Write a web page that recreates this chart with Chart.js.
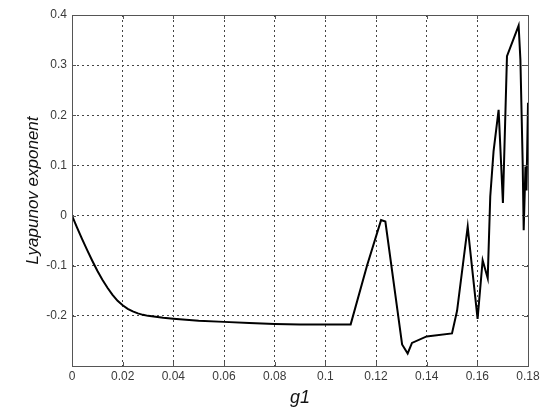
<!DOCTYPE html>
<html>
<head>
<meta charset="utf-8">
<script src="https://cdn.jsdelivr.net/npm/chart.js@4.4.0/dist/chart.umd.min.js"></script>
<style>
html,body{margin:0;padding:0;background:#fff;}
#wrap{width:550px;height:415px;position:relative;}
</style>
</head>
<body>
<div id="wrap"><canvas id="c" width="550" height="415"></canvas></div>
<script>
// ---- data ----
const g1Values = [0, 0.002, 0.004, 0.006, 0.008, 0.010, 0.012, 0.014, 0.016, 0.018, 0.020, 0.022, 0.024, 0.026, 0.028, 0.030, 0.033, 0.036, 0.040, 0.045, 0.050, 0.060, 0.070, 0.080, 0.090, 0.100, 0.110,
  0.1165, 0.1220, 0.1237, 0.1303, 0.1325, 0.1342, 0.1400, 0.1500, 0.1520, 0.1562, 0.1566, 0.1601, 0.1621, 0.1641, 0.1651, 0.1664, 0.1684, 0.1701, 0.1717, 0.1763, 0.1770, 0.1779, 0.1783, 0.1790, 0.1794, 0.1800];
const lyapunovValues = [0, -0.024, -0.047, -0.069, -0.090, -0.110, -0.128, -0.144, -0.158, -0.170, -0.179, -0.186, -0.191, -0.195, -0.198, -0.200, -0.202, -0.204, -0.206, -0.208, -0.210, -0.212, -0.214, -0.216, -0.217, -0.217, -0.217,
  -0.099, -0.009, -0.012, -0.257, -0.275, -0.254, -0.241, -0.235, -0.190, -0.022, -0.042, -0.206, -0.089, -0.125, 0.038, 0.128, 0.211, 0.025, 0.318, 0.379, 0.311, 0.105, -0.029, 0.098, 0.050, 0.225];
const xTickValues = [0, 0.02, 0.04, 0.06, 0.08, 0.1, 0.12, 0.14, 0.16, 0.18];
const xTickLabels = ['0', '0.02', '0.04', '0.06', '0.08', '0.1', '0.12', '0.14', '0.16', '0.18'];
const yTickValues = [-0.3, -0.2, -0.1, 0, 0.1, 0.2, 0.3, 0.4];
const yTickLabels = ['', '-0.2', '-0.1', '0', '0.1', '0.2', '0.3', '0.4'];
const xTitle = 'g1';
const yTitle = 'Lyapunov exponent';

const points = g1Values.map((x, i) => ({x: x, y: lyapunovValues[i]}));

function labelFor(values, labels, v) {
  for (let i = 0; i < values.length; i++) {
    if (Math.abs(values[i] - v) < 1e-9) return labels[i];
  }
  return '';
}

const boxPlugin = {
  id: 'box',
  afterDraw(chart) {
    const {ctx, chartArea: a} = chart;
    const xs = chart.scales.x, ys = chart.scales.y;
    ctx.save();
    ctx.strokeStyle = '#555';
    ctx.lineWidth = 1;
    ctx.setLineDash([]);
    ctx.strokeRect(Math.round(a.left) + 0.5, Math.round(a.top) + 0.5, Math.round(a.right - a.left), Math.round(a.bottom - a.top));
    // MATLAB-style inward ticks
    ctx.beginPath();
    xTickValues.forEach(v => {
      const px = Math.round(xs.getPixelForValue(v)) + 0.5;
      ctx.moveTo(px, a.bottom); ctx.lineTo(px, a.bottom - 4);
      ctx.moveTo(px, a.top); ctx.lineTo(px, a.top + 4);
    });
    yTickValues.forEach(v => {
      const py = Math.round(ys.getPixelForValue(v)) + 0.5;
      ctx.moveTo(a.left, py); ctx.lineTo(a.left + 4, py);
      ctx.moveTo(a.right, py); ctx.lineTo(a.right - 4, py);
    });
    ctx.stroke();
    ctx.restore();
  }
};

new Chart(document.getElementById('c'), {
  type: 'scatter',
  data: {
    datasets: [{
      data: points,
      showLine: true,
      borderColor: '#000',
      borderWidth: 2,
      pointRadius: 0,
      tension: 0,
      fill: false
    }]
  },
  options: {
    responsive: false,
    animation: false,
    events: [],
    layout: {padding: {left: 0, right: 22, top: 15, bottom: 0}},
    plugins: {legend: {display: false}, tooltip: {enabled: false}},
    scales: {
      x: {
        type: 'linear',
        min: 0, max: 0.18,
        afterBuildTicks(scale) { scale.ticks = xTickValues.map(v => ({value: v})); },
        afterFit(scale) { scale.height = 49; },
        ticks: {
          autoSkip: false,
          maxRotation: 0,
          padding: 3,
          color: '#3a3a3a',
          font: {family: 'Liberation Sans, Arial, sans-serif', size: 12},
          callback: (v) => labelFor(xTickValues, xTickLabels, v)
        },
        grid: {color: '#444', lineWidth: 1, drawTicks: false, tickLength: 0},
        border: {display: false, dash: [2, 3]},
        title: {
          display: true, text: xTitle, color: '#111',
          font: {family: 'Liberation Sans, Arial, sans-serif', size: 18, style: 'italic'},
          padding: {top: 6, bottom: 6}
        }
      },
      y: {
        type: 'linear',
        min: -0.3, max: 0.4,
        afterBuildTicks(scale) { scale.ticks = yTickValues.map(v => ({value: v})); },
        afterFit(scale) { scale.width = 72; },
        ticks: {
          autoSkip: false,
          padding: 5,
          color: '#3a3a3a',
          font: {family: 'Liberation Sans, Arial, sans-serif', size: 12},
          callback: (v) => labelFor(yTickValues, yTickLabels, v)
        },
        grid: {color: '#444', lineWidth: 1, drawTicks: false, tickLength: 0},
        border: {display: false, dash: [2, 3]},
        title: {
          display: true, text: yTitle, color: '#111',
          font: {family: 'Liberation Sans, Arial, sans-serif', size: 17, style: 'italic'},
          padding: {top: 23, bottom: 0}
        }
      }
    }
  },
  plugins: [boxPlugin]
});
</script>
</body>
</html>
